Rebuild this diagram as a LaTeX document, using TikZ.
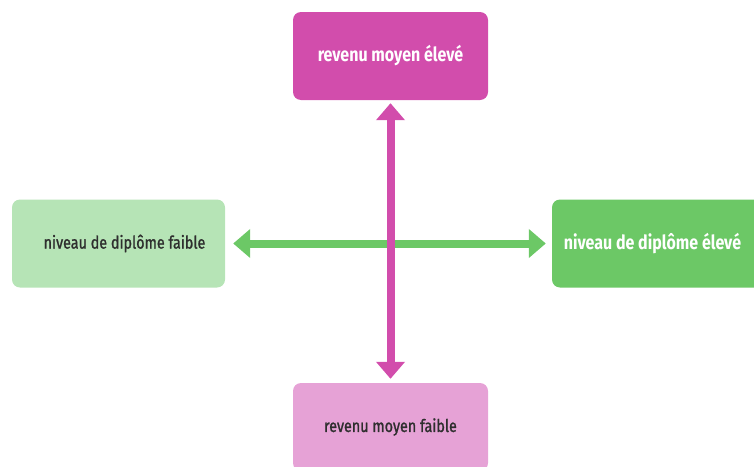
\documentclass[tikz,border=0pt]{standalone}
\usepackage{fontspec}
\setmainfont{Fira Sans}[FakeStretch=0.82]
\newfontfamily\medfont{Fira Sans}[FakeStretch=0.82, FakeBold=1.2]
\usetikzlibrary{arrows.meta}
\definecolor{magA}{HTML}{D24DAC}
\definecolor{magB}{HTML}{E6A2D6}
\definecolor{grnA}{HTML}{6CC866}
\definecolor{grnB}{HTML}{B6E4B6}
\definecolor{txtD}{HTML}{2E2E2E}
\tikzset{
  box/.style={rounded corners=8pt, minimum width=195pt, minimum height=88pt, inner sep=0pt},
  wbox/.style={box, text=white, font=\fontsize{19.5}{22}\selectfont\bfseries},
  dbox/.style={box, text=txtD, font=\fontsize{17.5}{21}\medfont},
  darr/.style={line width=8pt, {Triangle[width=28pt,length=17pt]}-{Triangle[width=28pt,length=17pt]}}
}
\begin{document}
\begin{tikzpicture}[x=1pt,y=-1pt]
\useasboundingbox (0,0) rectangle (754,466);
\clip (0,0) rectangle (754,466);
\node[wbox, fill=magA] (top) at (390.5,56) {revenu moyen élevé};
\node[dbox, fill=magB] (bot) at (390.5,427) {revenu moyen faible};
\node[dbox, fill=grnB, minimum width=213pt] (left) at (118.5,243.5) {\hspace*{12pt}niveau de diplôme faible};
\node[wbox, fill=grnA, minimum width=213pt] (right) at (658.5,243.5) {niveau de diplôme élevé\hspace*{12pt}};
\draw[darr, grnA, shorten <=8pt, shorten >=6pt] (left.east) -- (right.west);
\draw[darr, magA, shorten <=3pt, shorten >=4pt] (top.south) -- (bot.north);
\end{tikzpicture}
\end{document}
